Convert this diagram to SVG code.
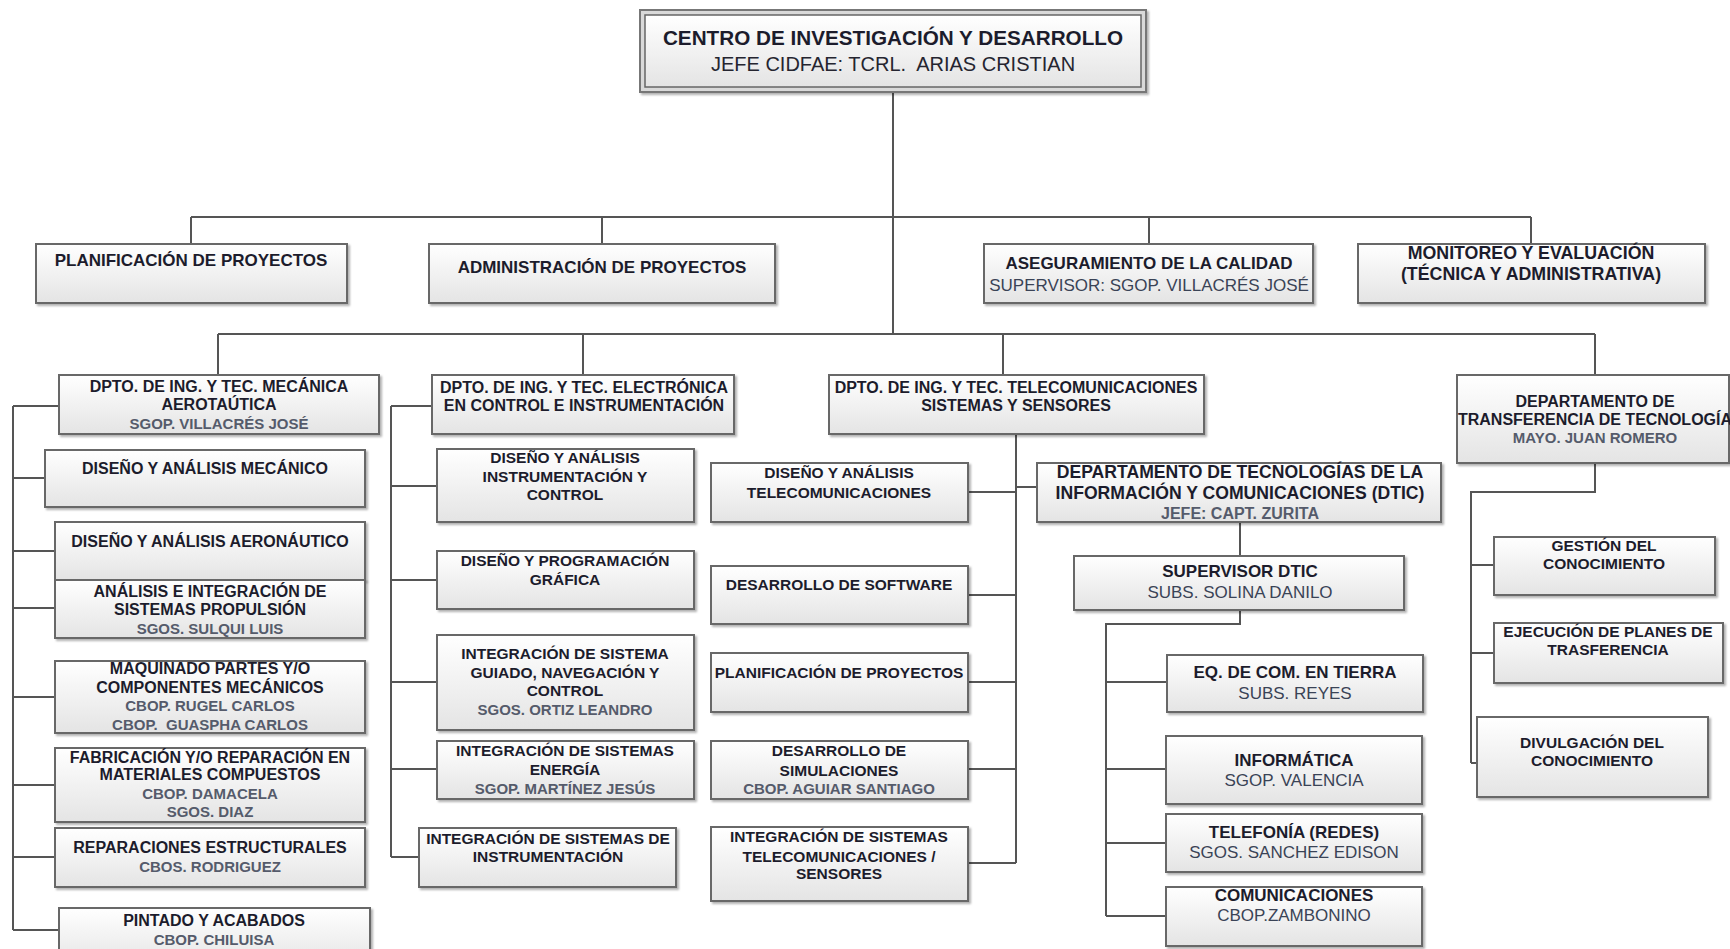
<svg xmlns="http://www.w3.org/2000/svg" width="1730" height="949" viewBox="0 0 1730 949">
<defs>
<linearGradient id="g" x1="0" y1="0" x2="0" y2="1">
<stop offset="0" stop-color="#ffffff"/>
<stop offset="1" stop-color="#e4e4e4"/>
</linearGradient>
<filter id="sh" x="-5%" y="-10%" width="110%" height="125%">
<feDropShadow dx="2" dy="2" stdDeviation="1.2" flood-color="#000" flood-opacity="0.3"/>
</filter>
</defs>
<style>
.box{fill:url(#g);stroke:#676767;stroke-width:2;filter:url(#sh)}
.c{fill:none;stroke:#555;stroke-width:2}
text{font-family:"Liberation Sans",Arial,sans-serif;text-anchor:middle}
.t{font-weight:bold;font-size:16px;fill:#1c1c2c}
.m{font-weight:bold;font-size:15.5px;fill:#1c1c2c}
.n{font-weight:bold;font-size:15px;fill:#555b6b}
.T{font-weight:bold;font-size:17px;fill:#1c1c2c}
.r{font-size:17px;fill:#3a4356}
.h1{font-weight:bold;font-size:20.7px;fill:#1c1c2c}
.h2{font-size:20px;fill:#252530}
</style>
<rect width="1730" height="949" fill="#ffffff"/>

<g id="connectors">
<path class="c" d="M893 92V334"/>
<path class="c" d="M191 217H1531M191 217V244M602 217V244M1149 217V244M1531 217V244"/>
<path class="c" d="M218 334H1595M218 334V375M583 334V375M1003 334V375M1595 334V375"/>
<path class="c" d="M13 406V930M13 406H59M13 478H45M13 551H55M13 608H55M13 697H55M13 785H55M13 857H55M13 930H59"/>
<path class="c" d="M391 406V857M391 406H432M391 486H437M391 580H437M391 682H437M391 769H437M391 857H419"/>
<path class="c" d="M1016 434V863M968 492H1016M968 595H1016M968 682H1016M968 769H1016M968 863H1016M1016 487H1037"/>
<path class="c" d="M1240 522V556M1240 610V624H1106V916M1106 682H1167M1106 769H1166M1106 843H1166M1106 916H1166"/>
<path class="c" d="M1595 463V492H1471V763M1471 565H1494M1471 653H1494M1471 763H1477"/>
</g>

<g id="n-centro">
<rect x="640" y="10" width="506" height="82" fill="#d9d9d9" stroke="#777" stroke-width="2" filter="url(#sh)"/>
<rect x="645" y="15" width="496" height="72" fill="url(#g)" stroke="#666" stroke-width="1.5"/>
<text class="h1" x="893" y="45">CENTRO DE INVESTIGACIÓN Y DESARROLLO</text>
<text class="h2" x="893" y="71" xml:space="preserve">JEFE CIDFAE: TCRL.  ARIAS CRISTIAN</text>
</g>

<g id="n-planif"><rect class="box" x="36" y="244" width="311" height="59"/>
<text class="T" x="191" y="266">PLANIFICACIÓN DE PROYECTOS</text></g>
<g id="n-admin"><rect class="box" x="429" y="244" width="346" height="59"/>
<text class="T" x="602" y="273">ADMINISTRACIÓN DE PROYECTOS</text></g>
<g id="n-aseg"><rect class="box" x="984" y="244" width="329" height="59"/>
<text class="T" x="1149" y="269">ASEGURAMIENTO DE LA CALIDAD</text>
<text class="r" x="1149" y="291">SUPERVISOR: SGOP. VILLACRÉS JOSÉ</text></g>
<g id="n-monit"><rect class="box" x="1358" y="244" width="347" height="59"/>
<text class="T" x="1531" y="259" style="font-size:17.8px">MONITOREO Y EVALUACIÓN</text>
<text class="T" x="1531" y="280" style="font-size:17.8px">(TÉCNICA Y ADMINISTRATIVA)</text></g>

<g id="n-dpto-mec"><rect class="box" x="59" y="375" width="320" height="59"/>
<text class="t" x="219" y="392">DPTO. DE ING. Y TEC. MECÁNICA</text>
<text class="t" x="219" y="410">AEROTAÚTICA</text>
<text class="n" x="219" y="429">SGOP. VILLACRÉS JOSÉ</text></g>
<g id="n-dpto-elec"><rect class="box" x="432" y="375" width="302" height="59"/>
<text class="t" x="584" y="393">DPTO. DE ING. Y TEC. ELECTRÓNICA</text>
<text class="t" x="584" y="411">EN CONTROL E INSTRUMENTACIÓN</text></g>
<g id="n-dpto-tel"><rect class="box" x="829" y="375" width="375" height="59"/>
<text class="t" x="1016" y="393">DPTO. DE ING. Y TEC. TELECOMUNICACIONES</text>
<text class="t" x="1016" y="411">SISTEMAS Y SENSORES</text></g>
<g id="n-dpto-transf"><rect class="box" x="1457" y="375" width="272" height="88"/>
<text class="t" x="1595" y="407">DEPARTAMENTO DE</text>
<text class="t" x="1595" y="425">TRANSFERENCIA DE TECNOLOGÍA</text>
<text class="n" x="1595" y="443">MAYO. JUAN ROMERO</text></g>

<g id="n-dis-mec"><rect class="box" x="45" y="450" width="320" height="57"/>
<text class="t" x="205" y="474">DISEÑO Y ANÁLISIS MECÁNICO</text></g>
<g id="n-dis-aero"><rect class="box" x="55" y="522" width="310" height="58"/>
<text class="t" x="210" y="547">DISEÑO Y ANÁLISIS AERONÁUTICO</text></g>
<g id="n-propulsion"><rect class="box" x="55" y="580" width="310" height="58"/>
<text class="t" x="210" y="597">ANÁLISIS E INTEGRACIÓN DE</text>
<text class="t" x="210" y="615">SISTEMAS PROPULSIÓN</text>
<text class="n" x="210" y="634">SGOS. SULQUI LUIS</text></g>
<g id="n-maquinado"><rect class="box" x="55" y="661" width="310" height="72"/>
<text class="t" x="210" y="674">MAQUINADO PARTES Y/O</text>
<text class="t" x="210" y="693">COMPONENTES MECÁNICOS</text>
<text class="n" x="210" y="711">CBOP. RUGEL CARLOS</text>
<text class="n" x="210" y="730" xml:space="preserve">CBOP.  GUASPHA CARLOS</text></g>
<g id="n-fabricacion"><rect class="box" x="55" y="748" width="310" height="74"/>
<text class="t" x="210" y="763">FABRICACIÓN Y/O REPARACIÓN EN</text>
<text class="t" x="210" y="780">MATERIALES COMPUESTOS</text>
<text class="n" x="210" y="799">CBOP. DAMACELA</text>
<text class="n" x="210" y="817">SGOS. DIAZ</text></g>
<g id="n-reparaciones"><rect class="box" x="55" y="828" width="310" height="59"/>
<text class="t" x="210" y="853">REPARACIONES ESTRUCTURALES</text>
<text class="n" x="210" y="872">CBOS. RODRIGUEZ</text></g>
<g id="n-pintado"><rect class="box" x="59" y="908" width="311" height="60"/>
<text class="t" x="214" y="926">PINTADO Y ACABADOS</text>
<text class="n" x="214" y="945">CBOP. CHILUISA</text></g>

<g id="n-dis-instr"><rect class="box" x="437" y="449" width="257" height="73"/>
<text class="m" x="565" y="463">DISEÑO Y ANÁLISIS</text>
<text class="m" x="565" y="482">INSTRUMENTACIÓN Y</text>
<text class="m" x="565" y="500">CONTROL</text></g>
<g id="n-dis-prog"><rect class="box" x="437" y="551" width="257" height="58"/>
<text class="m" x="565" y="566">DISEÑO Y PROGRAMACIÓN</text>
<text class="m" x="565" y="585">GRÁFICA</text></g>
<g id="n-guiado"><rect class="box" x="437" y="635" width="257" height="95"/>
<text class="m" x="565" y="659">INTEGRACIÓN DE SISTEMA</text>
<text class="m" x="565" y="678">GUIADO, NAVEGACIÓN Y</text>
<text class="m" x="565" y="696">CONTROL</text>
<text class="n" x="565" y="715">SGOS. ORTIZ LEANDRO</text></g>
<g id="n-energia"><rect class="box" x="437" y="741" width="257" height="58"/>
<text class="m" x="565" y="756">INTEGRACIÓN DE SISTEMAS</text>
<text class="m" x="565" y="775">ENERGÍA</text>
<text class="n" x="565" y="794">SGOP. MARTÍNEZ JESÚS</text></g>
<g id="n-instrumentacion"><rect class="box" x="419" y="828" width="257" height="59"/>
<text class="m" x="548" y="844">INTEGRACIÓN DE SISTEMAS DE</text>
<text class="m" x="548" y="862">INSTRUMENTACIÓN</text></g>

<g id="n-dis-tel"><rect class="box" x="711" y="463" width="257" height="59"/>
<text class="m" x="839" y="478">DISEÑO Y ANÁLISIS</text>
<text class="m" x="839" y="498">TELECOMUNICACIONES</text></g>
<g id="n-software"><rect class="box" x="711" y="566" width="257" height="58"/>
<text class="m" x="839" y="590">DESARROLLO DE SOFTWARE</text></g>
<g id="n-planif2"><rect class="box" x="711" y="653" width="257" height="59"/>
<text class="m" x="839" y="678">PLANIFICACIÓN DE PROYECTOS</text></g>
<g id="n-simulaciones"><rect class="box" x="711" y="741" width="257" height="58"/>
<text class="m" x="839" y="756">DESARROLLO DE</text>
<text class="m" x="839" y="776">SIMULACIONES</text>
<text class="n" x="839" y="794">CBOP. AGUIAR SANTIAGO</text></g>
<g id="n-int-tel"><rect class="box" x="711" y="827" width="257" height="74"/>
<text class="m" x="839" y="842">INTEGRACIÓN DE SISTEMAS</text>
<text class="m" x="839" y="862">TELECOMUNICACIONES /</text>
<text class="m" x="839" y="879">SENSORES</text></g>

<g id="n-dtic"><rect class="box" x="1037" y="463" width="404" height="59"/>
<text class="T" x="1240" y="478" style="font-size:17.6px">DEPARTAMENTO DE TECNOLOGÍAS DE LA</text>
<text class="T" x="1240" y="499" style="font-size:17.6px">INFORMACIÓN Y COMUNICACIONES (DTIC)</text>
<text class="n" x="1240" y="519" style="font-size:16px">JEFE: CAPT. ZURITA</text></g>
<g id="n-supervisor"><rect class="box" x="1074" y="556" width="330" height="54"/>
<text class="T" x="1240" y="577">SUPERVISOR DTIC</text>
<text class="r" x="1240" y="598">SUBS. SOLINA DANILO</text></g>
<g id="n-eq"><rect class="box" x="1167" y="655" width="256" height="57"/>
<text class="T" x="1295" y="678">EQ. DE COM. EN TIERRA</text>
<text class="r" x="1295" y="699">SUBS. REYES</text></g>
<g id="n-informatica"><rect class="box" x="1166" y="736" width="256" height="68"/>
<text class="T" x="1294" y="766">INFORMÁTICA</text>
<text class="r" x="1294" y="786">SGOP. VALENCIA</text></g>
<g id="n-telefonia"><rect class="box" x="1166" y="814" width="256" height="58"/>
<text class="T" x="1294" y="838">TELEFONÍA (REDES)</text>
<text class="r" x="1294" y="858">SGOS. SANCHEZ EDISON</text></g>
<g id="n-comunicaciones"><rect class="box" x="1166" y="887" width="256" height="59"/>
<text class="T" x="1294" y="901">COMUNICACIONES</text>
<text class="r" x="1294" y="921">CBOP.ZAMBONINO</text></g>

<g id="n-gestion"><rect class="box" x="1494" y="537" width="221" height="58"/>
<text class="m" x="1604" y="551">GESTIÓN DEL</text>
<text class="m" x="1604" y="569">CONOCIMIENTO</text></g>
<g id="n-ejecucion"><rect class="box" x="1494" y="623" width="229" height="60"/>
<text class="m" x="1608" y="637">EJECUCIÓN DE PLANES DE</text>
<text class="m" x="1608" y="655">TRASFERENCIA</text></g>
<g id="n-divulgacion"><rect class="box" x="1477" y="717" width="231" height="80"/>
<text class="m" x="1592" y="748">DIVULGACIÓN DEL</text>
<text class="m" x="1592" y="766">CONOCIMIENTO</text></g>
</svg>
